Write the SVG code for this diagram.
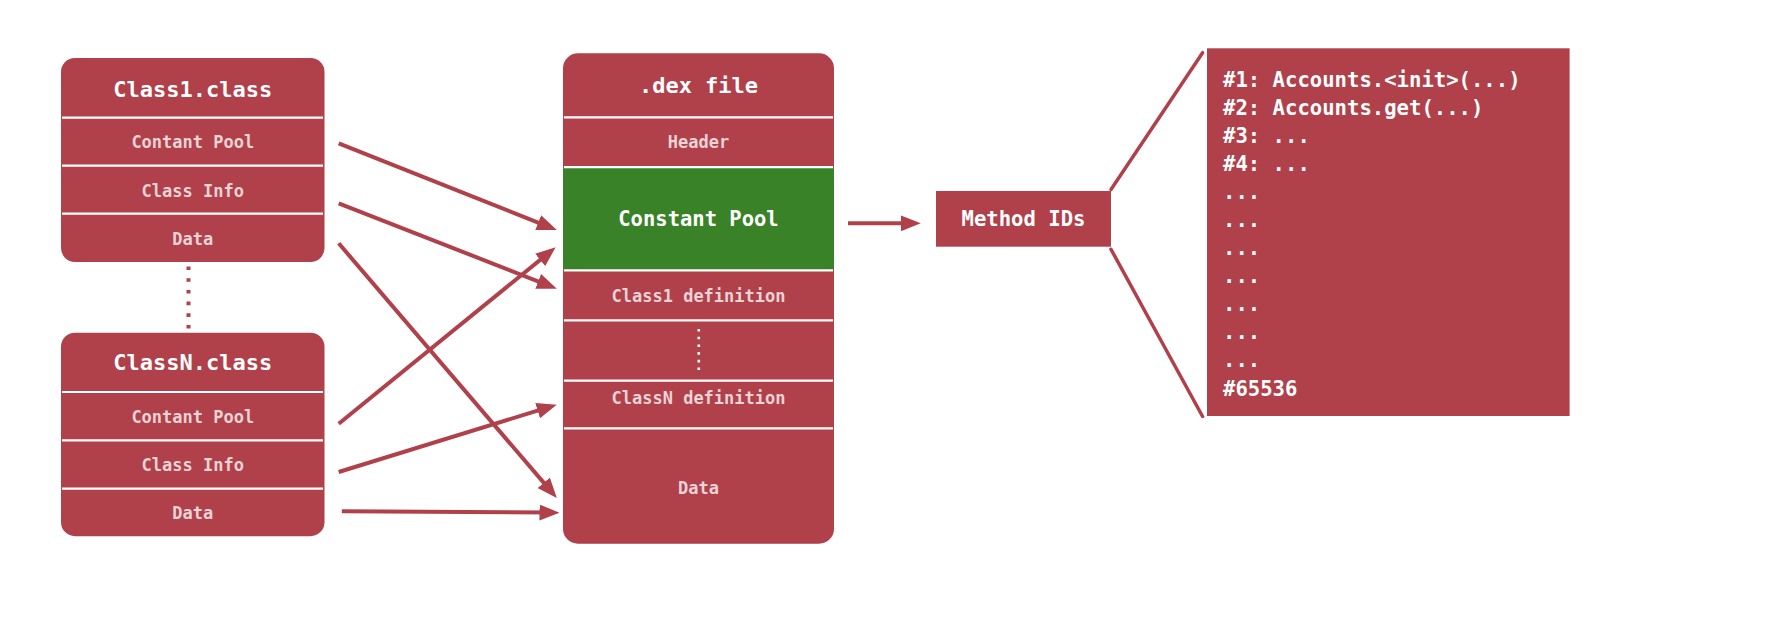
<svg xmlns="http://www.w3.org/2000/svg" width="1784" height="624" viewBox="0 0 1784 624">
<style>
.box{fill:#b0404a}
.green{fill:#3a8227}
.div{stroke:#ffffff;stroke-width:2.2}
.t{font-family:"DejaVu Sans Mono","Liberation Mono",monospace;font-weight:bold;text-anchor:middle}
.title{font-size:22px;fill:#ffffff}
.row{font-size:17px;fill:#ebd3d6}
.list{font-family:"DejaVu Sans Mono","Liberation Mono",monospace;font-weight:bold;font-size:20.6px;fill:#ffffff}
.arr{stroke:#b0404a;stroke-width:4;fill:none;marker-end:url(#ah)}
.fan{stroke:#b0404a;stroke-width:3.5;fill:none;stroke-linecap:round}
</style>
<defs>
<marker id="ah" markerUnits="userSpaceOnUse" viewBox="0 0 20 16" refX="10" refY="8" markerWidth="20" markerHeight="16" orient="auto">
<path d="M0,0 L20,8 L0,16 Z" fill="#b0404a"/>
</marker>
</defs>
<rect width="1784" height="624" fill="#ffffff"/>

<g id="class1">
<rect class="box" x="61" y="58" width="263.5" height="204" rx="14"/>
<line class="div" x1="62" y1="117.7" x2="323" y2="117.7"/>
<line class="div" x1="62" y1="165.7" x2="323" y2="165.7"/>
<line class="div" x1="62" y1="213.7" x2="323" y2="213.7"/>
<text class="t title" x="192.8" y="96.5">Class1.class</text>
<text class="t row" x="192.8" y="148.3">Contant Pool</text>
<text class="t row" x="192.8" y="196.7">Class Info</text>
<text class="t row" x="192.8" y="245">Data</text>
</g>

<g id="ellipsis-classes">
<line x1="188.5" y1="266.5" x2="188.5" y2="329" stroke="#b0404a" stroke-width="4" stroke-dasharray="3.6 8.1"/>
</g>

<g id="classN">
<rect class="box" x="61" y="332.7" width="263.5" height="203.5" rx="14"/>
<line class="div" x1="62" y1="392" x2="323" y2="392"/>
<line class="div" x1="62" y1="440.3" x2="323" y2="440.3"/>
<line class="div" x1="62" y1="488.7" x2="323" y2="488.7"/>
<text class="t title" x="192.8" y="370.3">ClassN.class</text>
<text class="t row" x="192.8" y="422.7">Contant Pool</text>
<text class="t row" x="192.8" y="471">Class Info</text>
<text class="t row" x="192.8" y="519.3">Data</text>
</g>

<g id="dex">
<rect class="box" x="563" y="53.3" width="271" height="490.4" rx="15"/>
<rect class="green" x="563" y="168" width="271" height="101.5"/>
<line class="div" x1="564" y1="117.3" x2="833" y2="117.3"/>
<line class="div" x1="564" y1="167.2" x2="833" y2="167.2"/>
<line class="div" x1="564" y1="270.3" x2="833" y2="270.3"/>
<line class="div" x1="564" y1="320.3" x2="833" y2="320.3"/>
<line class="div" x1="564" y1="380.7" x2="833" y2="380.7"/>
<line class="div" x1="564" y1="428.3" x2="833" y2="428.3"/>
<text class="t title" x="698.5" y="92.7">.dex file</text>
<text class="t row" x="698.5" y="148.3">Header</text>
<text class="t title" x="698.5" y="226" style="font-size:20.5px">Constant Pool</text>
<text class="t row" x="698.5" y="301.7">Class1 definition</text>
<line x1="698.8" y1="329" x2="698.8" y2="371" stroke="#ffffff" stroke-width="2.6" stroke-dasharray="2.6 5.1"/>
<text class="t row" x="698.5" y="404.3">ClassN definition</text>
<text class="t row" x="698.5" y="493.7">Data</text>
</g>

<g id="method-ids">
<rect class="box" x="936" y="191" width="175" height="55.7"/>
<text class="t title" x="1023.5" y="226" style="font-size:20.6px">Method IDs</text>
</g>

<g id="method-list">
<rect class="box" x="1207" y="48.3" width="362.6" height="367.7"/>
<text class="list" x="1223" y="87.3">#1: Accounts.&lt;init&gt;(...)</text>
<text class="list" x="1223" y="115.3">#2: Accounts.get(...)</text>
<text class="list" x="1223" y="143.3">#3: ...</text>
<text class="list" x="1223" y="171.3">#4: ...</text>
<text class="list" x="1223" y="199.3">...</text>
<text class="list" x="1223" y="227.3">...</text>
<text class="list" x="1223" y="255.3">...</text>
<text class="list" x="1223" y="283.3">...</text>
<text class="list" x="1223" y="311.3">...</text>
<text class="list" x="1223" y="339.3">...</text>
<text class="list" x="1223" y="367.3">...</text>
<text class="list" x="1223" y="395.5">#65536</text>
</g>

<g id="connectors">
<line class="arr" x1="338.7" y1="143.3" x2="547.5" y2="226.3"/>
<line class="arr" x1="338.7" y1="203.3" x2="547.5" y2="285.05"/>
<line class="arr" x1="338.7" y1="243.3" x2="550.3" y2="490.4"/>
<line class="arr" x1="338.7" y1="423.7" x2="547.9" y2="253.6"/>
<line class="arr" x1="338.7" y1="472" x2="547.2" y2="407.65"/>
<line class="arr" x1="341.8" y1="511.3" x2="549.5" y2="512.6"/>
<line class="arr" x1="848" y1="223.3" x2="910.8" y2="223.3"/>
<line class="fan" x1="1111" y1="189.5" x2="1202.6" y2="52.7"/>
<line class="fan" x1="1111" y1="249.3" x2="1202.6" y2="416.5"/>
</g>
</svg>
